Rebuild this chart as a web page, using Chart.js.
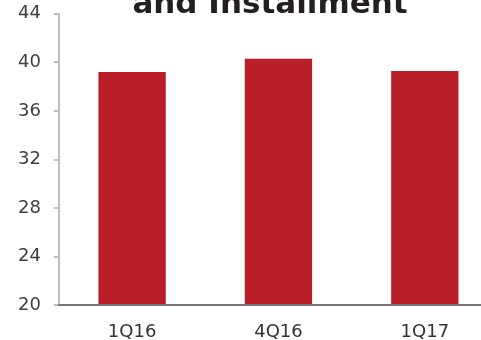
<!DOCTYPE html>
<html>
<head>
<meta charset="utf-8">
<script src="https://cdn.jsdelivr.net/npm/chart.js@4"></script>
<style>
  html, body { margin: 0; padding: 0; background: #fff; overflow: hidden; }
  #wrap { position: relative; width: 481px; height: 340px; overflow: hidden; }
  #c { position: absolute; left: 0; top: -10px; }
</style>
</head>
<body>
<div id="wrap"><canvas id="c" width="498" height="350"></canvas></div>
<script>
// --- data ---
var categories = ['1Q16', '4Q16', '1Q17'];
var values = [39.2, 40.3, 39.3];
var yTicks = [20, 24, 28, 32, 36, 40, 44];
var titleText = 'and Installment';

var FONT = "'DejaVu Sans', Verdana, sans-serif";

// title is clipped by the top edge in the original, so draw it by hand
var clippedTitle = {
    id: 'clippedTitle',
    afterDraw: function (chart) {
        var ctx = chart.ctx;
        ctx.save();
        ctx.font = 'bold 31px ' + FONT;
        ctx.fillStyle = '#231f20';
        ctx.textAlign = 'center';
        ctx.textBaseline = 'alphabetic';
        ctx.fillText(titleText, 270, 22.5);
        ctx.restore();
    }
};

new Chart(document.getElementById('c').getContext('2d'), {
    type: 'bar',
    data: {
        labels: categories,
        datasets: [{
            data: values,
            backgroundColor: '#BA1F29',
            borderWidth: 0,
            barPercentage: 0.46,
            categoryPercentage: 1
        }]
    },
    options: {
        responsive: false,
        animation: false,
        layout: { padding: { top: 0, right: 0, bottom: -19, left: 5 } },
        plugins: {
            legend: { display: false },
            title: { display: false },
            tooltip: { enabled: false }
        },
        scales: {
            x: {
                grid: { display: false, drawTicks: false },
                border: { display: true, color: '#777777', width: 2, z: 1 },
                ticks: { color: '#333333', padding: 16, font: { family: FONT, size: 18 } }
            },
            y: {
                min: yTicks[0],
                max: yTicks[yTicks.length - 1],
                afterBuildTicks: function (axis) {
                    axis.ticks = yTicks.map(function (v) { return { value: v }; });
                },
                grid: { display: true, drawOnChartArea: false, drawTicks: true, tickLength: 5, color: '#bfbfbf', lineWidth: 2 },
                border: { display: true, color: '#bfbfbf', width: 2 },
                ticks: { color: '#404040', padding: 13, font: { family: FONT, size: 18 } }
            }
        }
    },
    plugins: [clippedTitle]
});
</script>
</body>
</html>
